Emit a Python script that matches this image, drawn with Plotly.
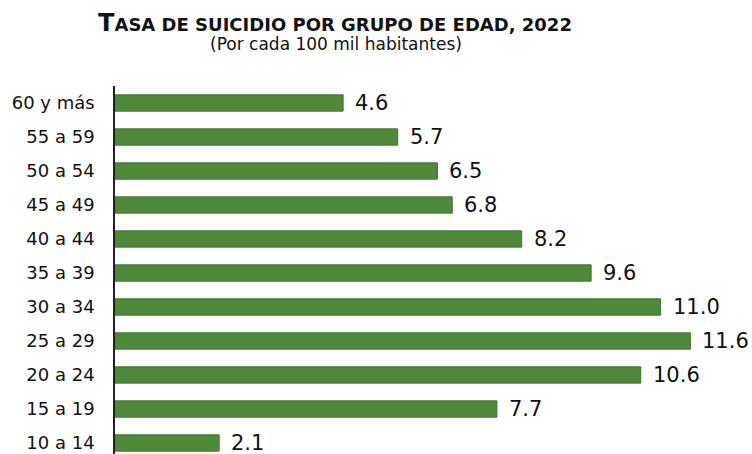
import plotly.graph_objects as go

categories = ["10 a 14", "15 a 19", "20 a 24", "25 a 29", "30 a 34", "35 a 39",
              "40 a 44", "45 a 49", "50 a 54", "55 a 59", "60 y más"]
rates = [2.1, 7.7, 10.6, 11.6, 11.0, 9.6, 8.2, 6.8, 6.5, 5.7, 4.6]

title_text = "<b><span style='font-size:24px'>T</span>ASA DE SUICIDIO POR GRUPO DE EDAD, 2022</b>"
subtitle_text = "(Por cada 100 mil habitantes)"

fig = go.Figure()
fig.add_trace(go.Bar(
    x=rates, y=categories, orientation="h",
    marker=dict(color="#4e8a3a", line=dict(color="#3f7530", width=1)),
    width=0.48, hoverinfo="x+y",
))

for c, v in zip(categories, rates):
    fig.add_annotation(x=v, y=c, xref="x", yref="y", text=f"{v:.1f}",
                       showarrow=False, xanchor="left", yanchor="middle",
                       xshift=10, yshift=0,
                       font=dict(family="DejaVu Sans", size=21, color="#111"))

fig.add_annotation(x=(336 - 115) / 637, y=1 + (86 - 44) / 368, xref="paper", yref="paper",
                   text=subtitle_text, showarrow=False, xanchor="center", yanchor="middle",
                   font=dict(family="DejaVu Sans", size=17, color="#111"))

fig.update_layout(
    width=752, height=454,
    margin=dict(l=115, r=0, t=86, b=0, autoexpand=False),
    paper_bgcolor="white", plot_bgcolor="white",
    showlegend=False,
    title=dict(text=title_text, x=335/752, xanchor="center", y=1 - 25/454, yanchor="middle",
               xref="container", yref="container",
               font=dict(family="DejaVu Sans", size=18, color="#111")),
    xaxis=dict(range=[0, 637/49.6], visible=False, fixedrange=True),
    yaxis=dict(categoryorder="array", categoryarray=categories, automargin=False,
               range=[-0.324, 10.5], showline=True, linecolor="#222", linewidth=1.5,
               showgrid=False, ticks="", ticklabelstandoff=15,
               tickfont=dict(family="DejaVu Sans", size=18, color="#111")),
)

fig.write_html("out.html", config={"displayModeBar": False},
               post_script="document.body.style.margin='0';document.body.style.padding='0';")
